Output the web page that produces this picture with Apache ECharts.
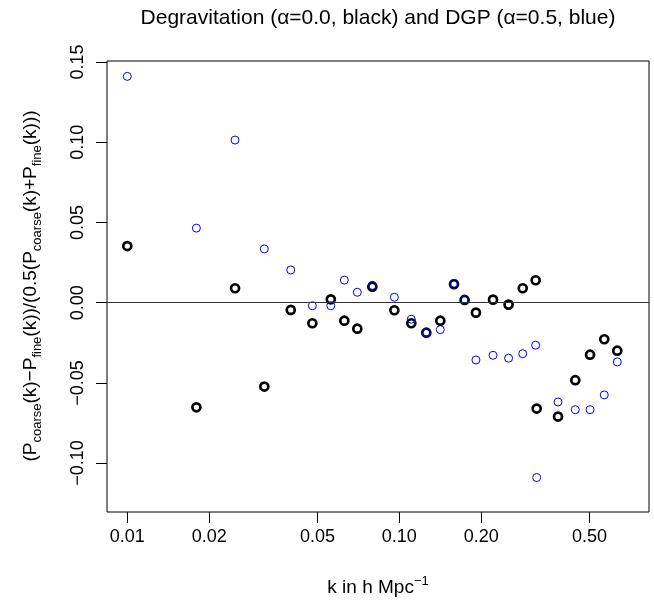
<!DOCTYPE html>
<html>
<head>
<meta charset="utf-8">
<script src="https://cdn.jsdelivr.net/npm/echarts@6/dist/echarts.min.js"></script>
<style>
  html, body { margin: 0; padding: 0; background: #fff; }
  #chart { width: 654px; height: 601px; }
</style>
</head>
<body>
<div id="chart"></div>
<script>
// k in h/Mpc
const kValues = [0.01, 0.01795, 0.0249, 0.0319, 0.0399, 0.0479, 0.056, 0.0628, 0.0701, 0.0796,
  0.0959, 0.1107, 0.1257, 0.1415, 0.1589, 0.1738, 0.1913, 0.2211, 0.2522, 0.2843,
  0.3172, 0.32, 0.3833, 0.4436, 0.5026, 0.567, 0.633]
// degravitation, alpha = 0.0 (black)
const degravValues = [0.0353, -0.0652, 0.0090, -0.0523, -0.0045, -0.0128, 0.0021, -0.0112, -0.0162, 0.0100,
  -0.0047, -0.0128, -0.0187, -0.0112, 0.0115, 0.0017, -0.0062, 0.0019, -0.0012, 0.0090,
  0.0140, -0.0660, -0.0710, -0.0483, -0.0324, -0.0228, -0.0299]
// DGP, alpha = 0.5 (blue)
const dgpValues = [0.1411, 0.0465, 0.1014, 0.0335, 0.0204, -0.0019, -0.0019, 0.0141, 0.0065, 0.0108,
  0.0034, -0.0103, -0.0187, -0.0168, 0.0121, 0.0017, -0.0357, -0.0328, -0.0346, -0.0318,
  -0.0265, -0.109, -0.0619, -0.0667, -0.0667, -0.0575, -0.0369]

const xTicks = [0.01, 0.02, 0.05, 0.10, 0.20, 0.50]
const yTicks = [-0.10, -0.05, 0.00, 0.05, 0.10, 0.15]

const FONT = 'Liberation Sans, Arial, sans-serif'
const lg = Math.log10

const chart = echarts.init(document.getElementById('chart'), null, { renderer: 'canvas' })

const pts = vals => kValues.map((k, i) => [lg(k), vals[i]])
const fmtY = v => (v < 0 ? '\u2212' : '') + Math.abs(v).toFixed(2)

chart.setOption({
  backgroundColor: '#fff',
  animation: false,
  grid: { left: 107, right: 5, top: 61, bottom: 89, show: true, borderColor: '#000', borderWidth: 1, backgroundColor: 'transparent' },
  xAxis: {
    type: 'value',
    min: -2.0746,
    max: -0.082,
    axisLine: { show: false, onZero: false },
    splitLine: { show: false },
    axisTick: { show: true, inside: false, length: 11, lineStyle: { color: '#000', width: 1 }, customValues: xTicks.map(lg) },
    axisLabel: {
      color: '#000', fontSize: 18, fontFamily: FONT, margin: 16,
      customValues: xTicks.map(lg),
      formatter: v => Math.pow(10, v).toFixed(2)
    }
  },
  yAxis: {
    type: 'value',
    min: -0.13049,
    max: 0.15069,
    axisLine: { show: false, onZero: false },
    splitLine: { show: false },
    axisTick: { show: true, inside: false, length: 11, lineStyle: { color: '#000', width: 1 }, customValues: yTicks },
    axisLabel: {
      color: '#000', fontSize: 18, fontFamily: FONT, margin: 20,
      rotate: 90, align: 'center', verticalAlign: 'bottom',
      customValues: yTicks,
      formatter: fmtY
    }
  },
  series: [
    {
      name: 'degravitation',
      type: 'scatter',
      symbol: 'circle',
      symbolSize: 8,
      itemStyle: { color: '#fff', borderColor: '#000', borderWidth: 2.7, opacity: 1 },
      data: pts(degravValues),
      markLine: {
        silent: true,
        symbol: ['none', 'none'],
        label: { show: false },
        lineStyle: { color: '#333', width: 1, type: 'solid' },
        data: [{ yAxis: 0 }]
      },
      z: 2
    },
    {
      name: 'DGP',
      type: 'scatter',
      symbol: 'circle',
      symbolSize: 8,
      itemStyle: { color: 'rgba(255,255,255,0)', borderColor: '#0000ff', borderWidth: 1, opacity: 1 },
      data: pts(dgpValues),
      z: 3
    }
  ],
  graphic: [
    {
      type: 'text', x: 378, y: 18,
      style: { text: 'Degravitation (\u03b1=0.0, black) and DGP (\u03b1=0.5, blue)', font: '21px ' + FONT, fill: '#000', align: 'center', verticalAlign: 'middle' }
    },
    {
      type: 'text', x: 378, y: 588,
      style: {
        text: '{m|k in h Mpc}{s|\u22121}',
        align: 'center', verticalAlign: 'middle',
        rich: {
          m: { fontSize: 19, fontFamily: FONT, fill: '#000', lineHeight: 26 },
          s: { fontSize: 13, fontFamily: FONT, fill: '#000', lineHeight: 13, verticalAlign: 'top' }
        }
      }
    },
    {
      type: 'text', x: 31, y: 286, rotation: Math.PI / 2,
      style: {
        text: '{m|(P}{s|coarse}{m|(k)\u2212P}{s|fine}{m|(k))/(0.5(P}{s|coarse}{m|(k)+P}{s|fine}{m|(k)))}',
        align: 'center', verticalAlign: 'middle',
        rich: {
          m: { fontSize: 19, fontFamily: FONT, fill: '#000', lineHeight: 26 },
          s: { fontSize: 13, fontFamily: FONT, fill: '#000', lineHeight: 13, verticalAlign: 'bottom' }
        }
      }
    }
  ]
})
</script>
</body>
</html>
